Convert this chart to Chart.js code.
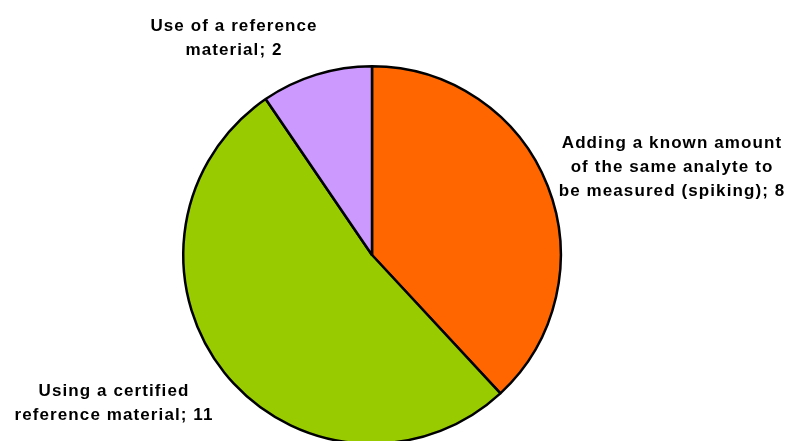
<!DOCTYPE html>
<html>
<head>
<meta charset="utf-8">
<script src="https://cdn.jsdelivr.net/npm/chart.js@4/dist/chart.umd.min.js"></script>
<style>
  html, body { margin: 0; padding: 0; background: #fff; overflow: hidden; }
  #pie { display: block; }
</style>
</head>
<body>
<canvas id="pie" width="790" height="460"></canvas>
<script>
// data
const categories = [
  'Adding a known amount of the same analyte to be measured (spiking)',
  'Using a certified reference material',
  'Use of a reference material'
];
const counts = [8, 11, 2];
const sliceColors = ['#FF6600', '#99CC00', '#CC99FF'];

// label text split into lines, as in the picture
const labelLines = [
  ['Adding a known amount', 'of the same analyte to', 'be measured (spiking); 8'],
  ['Using a certified', 'reference material; 11'],
  ['Use of a reference', 'material; 2']
];
// centre x / first baseline y of each label block
const labelPos = [
  { x: 672, y: 148 },
  { x: 114, y: 396 },
  { x: 234, y: 31 }
];

// draws the category labels outside the pie
const outsideLabels = {
  id: 'outsideLabels',
  afterDraw(chart) {
    const ctx = chart.ctx;
    ctx.save();
    ctx.fillStyle = '#000';
    ctx.font = 'bold 17px "Liberation Sans", Arial, sans-serif';
    ctx.textAlign = 'center';
    ctx.textBaseline = 'alphabetic';
    if ('letterSpacing' in ctx) ctx.letterSpacing = '1.1px';
    labelLines.forEach((lines, i) => {
      lines.forEach((line, j) => {
        ctx.fillText(line, labelPos[i].x, labelPos[i].y + j * 24);
      });
    });
    ctx.restore();
  }
};

const data = {
  labels: categories,
  datasets: [{
    data: counts,
    backgroundColor: sliceColors,
    borderColor: '#000',
    borderWidth: 2.5,
  }]
};

const config = {
  type: 'pie',
  data,
  options: {
    responsive: false,
    animation: false,
    layout: {
      padding: { left: 182, top: 65, right: 228, bottom: 15 }
    },
    plugins: {
      legend: { display: false },
      tooltip: { enabled: false }
    }
  },
  plugins: [outsideLabels]
};

new Chart(document.getElementById('pie'), config);
</script>
</body>
</html>
